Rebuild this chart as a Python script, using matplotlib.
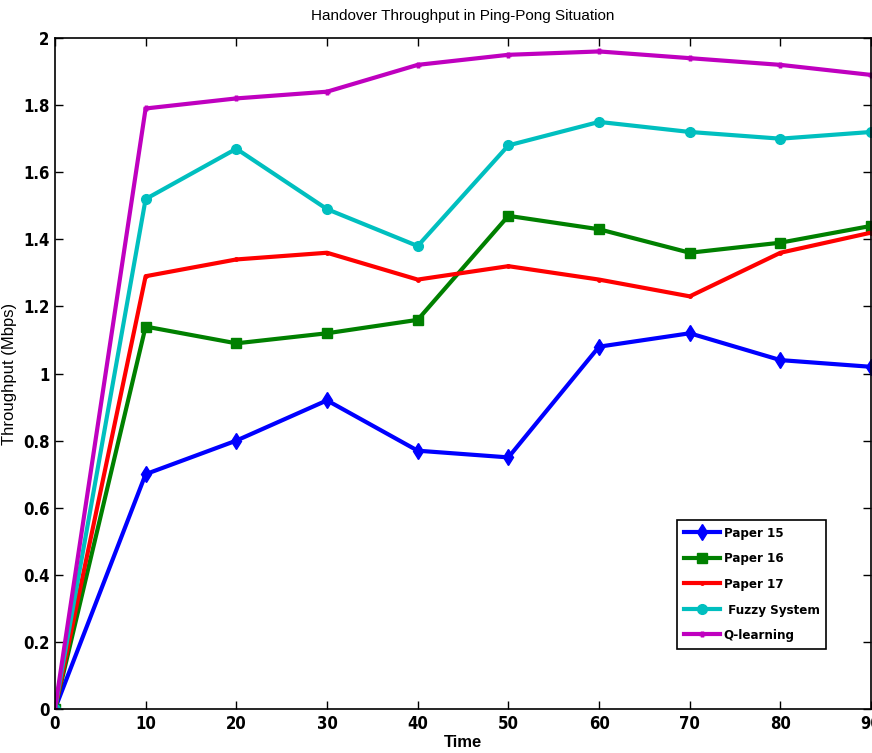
import numpy as np
import matplotlib.pyplot as plt

# data
time = [0, 10, 20, 30, 40, 50, 60, 70, 80, 90]
paper15 = [0, 0.70, 0.80, 0.92, 0.77, 0.75, 1.08, 1.12, 1.04, 1.02]
paper16 = [0, 1.14, 1.09, 1.12, 1.16, 1.47, 1.43, 1.36, 1.39, 1.44]
paper17 = [0, 1.29, 1.34, 1.36, 1.28, 1.32, 1.28, 1.23, 1.36, 1.42]
fuzzy = [0, 1.52, 1.67, 1.49, 1.38, 1.68, 1.75, 1.72, 1.70, 1.72]
qlearn = [0, 1.79, 1.82, 1.84, 1.92, 1.95, 1.96, 1.94, 1.92, 1.89]
yticks = [0, 0.2, 0.4, 0.6, 0.8, 1, 1.2, 1.4, 1.6, 1.8, 2]
yticklabels = ['0', '0.2', '0.4', '0.6', '0.8', '1', '1.2', '1.4', '1.6', '1.8', '2']

tickfont = ['DejaVu Sans']

fig = plt.figure(figsize=(8.72, 7.53), dpi=100)
ax = fig.add_axes([0.063, 0.0584, 0.936, 0.8911])

lw = 3
ax.plot(time, paper15, color='#0000ff', marker='d', ms=8, lw=lw, label='Paper 15')
ax.plot(time, paper16, color='#008000', marker='s', ms=7, lw=lw, label='Paper 16')
ax.plot(time, paper17, color='#ff0000', marker='.', ms=5, lw=lw, label='Paper 17')
ax.plot(time, fuzzy, color='#00bfbf', marker='o', ms=7, lw=lw, label=' Fuzzy System')
ax.plot(time, qlearn, color='#bf00bf', marker='+', ms=5, mew=2.5, lw=lw, label='Q-learning')

ax.set_xlim(0, 90)
ax.set_ylim(0, 2)
ax.set_xticks(time)
ax.set_yticks(yticks)
ax.set_yticklabels(yticklabels)
ax.tick_params(direction='in', top=True, right=True, length=6, width=1, pad=4)
for lab in ax.get_xticklabels() + ax.get_yticklabels():
    lab.set_family(tickfont)
    lab.set_fontweight('bold')
    lab.set_fontstretch('condensed')
    lab.set_fontsize(12)
for s in ax.spines.values():
    s.set_linewidth(1.2)

ax.set_title('Handover Throughput in Ping-Pong Situation', fontsize=11, family='Liberation Sans', pad=13)
ax.set_ylabel('Throughput (Mbps)', fontsize=12, family='Liberation Sans')
ax.yaxis.set_label_coords(-0.046, 0.5)
ax.set_xlabel('Time', fontsize=12, fontweight='bold', family='Liberation Sans', labelpad=2)

leg = ax.legend(loc='lower right', bbox_to_anchor=(0.945, 0.09), fancybox=False,
                edgecolor='black', framealpha=1, handlelength=2.7, handletextpad=0.3,
                borderpad=0.5, labelspacing=0.95, borderaxespad=0,
                prop={'family': tickfont, 'weight': 'bold', 'stretch': 'condensed', 'size': 9.5})
leg.get_frame().set_linewidth(1.2)

fig.savefig('out.png', dpi=100)
